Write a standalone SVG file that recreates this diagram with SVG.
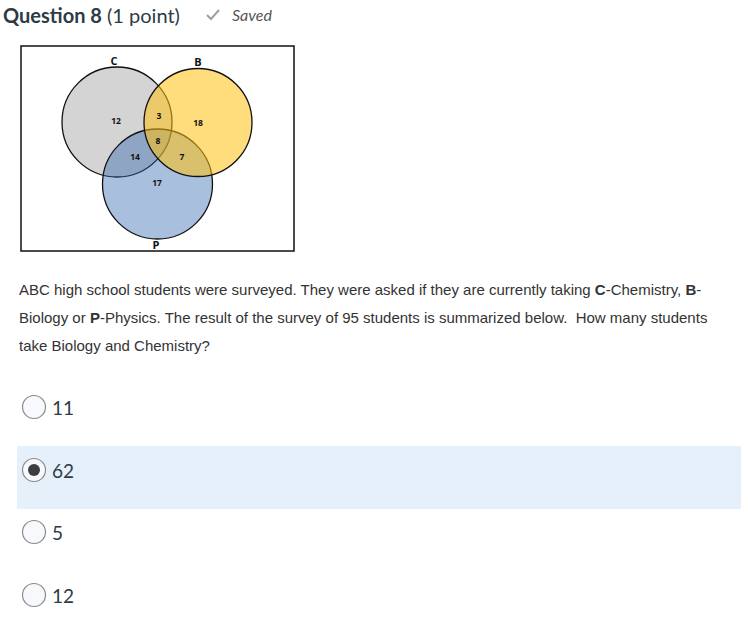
<svg xmlns="http://www.w3.org/2000/svg" width="748" height="631" viewBox="0 0 748 631">
<style>
.title{font-family:Lato,"Open Sans",sans-serif;fill:#2d3b45}
.num{font-family:"Open Sans","Liberation Sans",sans-serif;font-weight:bold;font-size:8.5px;fill:#111;text-anchor:middle}
.lbl{font-family:"Open Sans","Liberation Sans",sans-serif;font-weight:bold;font-size:11px;fill:#111;text-anchor:middle}
.q{font-family:"Liberation Sans",Arial,sans-serif;font-size:15px;fill:#333}
.opt{font-family:Lato,"Open Sans",sans-serif;font-size:19px;fill:#2d3b45}
.radio{fill:#f7f9fd;stroke:#8a8a8a;stroke-width:1.2}
.ring{stroke:#111;stroke-width:1.3}
</style>
<rect width="748" height="631" fill="#fff"/>
<g id="header">
<text x="3" y="23" class="title" font-size="20"><tspan font-weight="bold">Question 8</tspan> (1 point)</text>
<path d="M207 15 l4 4 l8 -9" fill="none" stroke="#9aa0a6" stroke-width="2"/>
<text x="232" y="21" font-family="Lato,'Open Sans',sans-serif" font-style="italic" font-size="16" fill="#555">Saved</text>
</g>
<g id="venn">
<rect x="21" y="46" width="273" height="205" fill="#fff" stroke="#111" stroke-width="1.5"/>
<g id="circle-C"><circle cx="117" cy="122" r="55" fill="#d4d4d4" class="ring"/></g>
<g id="circle-P"><circle cx="157.5" cy="184" r="55" fill="#2562ac" fill-opacity="0.4" class="ring"/></g>
<g id="circle-B"><circle cx="198" cy="122.5" r="54" fill="#ffbf11" fill-opacity="0.55" class="ring"/></g>
<text x="114" y="65" class="lbl">C</text>
<text x="198" y="66" class="lbl">B</text>
<text x="156" y="249" class="lbl">P</text>
<text x="116" y="124" class="num">12</text>
<text x="159" y="119" class="num">3</text>
<text x="198" y="126" class="num">18</text>
<text x="158" y="144" class="num">8</text>
<text x="135" y="160" class="num">14</text>
<text x="182" y="160" class="num">7</text>
<text x="157" y="186" class="num">17</text>
</g>
<g id="question">
<text x="19" y="295" class="q">ABC high school students were surveyed. They were asked if they are currently taking <tspan font-weight="bold">C</tspan>-Chemistry, <tspan font-weight="bold">B</tspan>-</text>
<text x="19" y="323" class="q">Biology or <tspan font-weight="bold">P</tspan>-Physics. The result of the survey of 95 students is summarized below.&#160; How many students</text>
<text x="19" y="351" class="q">take Biology and Chemistry?</text>
</g>
<g id="options">
<rect x="17" y="446" width="724" height="63" fill="#e6f0fa"/>
<circle cx="34" cy="407" r="11.5" class="radio"/>
<text x="52" y="415" class="opt">11</text>
<circle cx="34" cy="470" r="11.5" class="radio"/>
<circle cx="34" cy="470" r="6" fill="#3d3d3d"/>
<text x="52" y="478" class="opt">62</text>
<circle cx="34" cy="532" r="11.5" class="radio"/>
<text x="52" y="540" class="opt">5</text>
<circle cx="34" cy="595" r="11.5" class="radio"/>
<text x="52" y="603" class="opt">12</text>
</g>
</svg>
